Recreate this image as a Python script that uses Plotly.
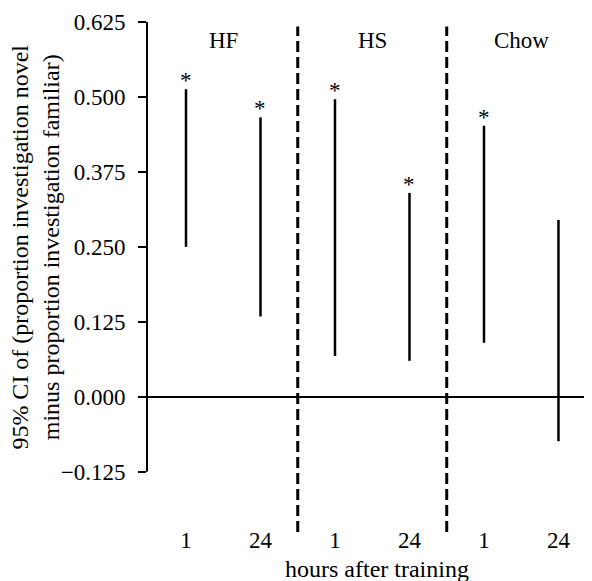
import plotly.graph_objects as go

# ---- data ----
groups = ["HF", "HS", "Chow"]
hours = ["1", "24", "1", "24", "1", "24"]
ci_lower = [0.250, 0.134, 0.068, 0.060, 0.090, -0.074]
ci_upper = [0.513, 0.466, 0.496, 0.340, 0.452, 0.295]
significant = [True, True, True, True, True, False]
y_tick_vals = [-0.125, 0.0, 0.125, 0.25, 0.375, 0.5, 0.625]
y_tick_text = ["\u22120.125", "0.000", "0.125", "0.250", "0.375", "0.500", "0.625"]

FONT = "Liberation Serif"
FS = 23
FT = 24

xs = list(range(len(hours)))

# CI bars as vertical segments
lx, ly = [], []
for i in xs:
    lx += [i, i, None]
    ly += [ci_lower[i], ci_upper[i], None]

fig = go.Figure()
fig.add_trace(go.Scatter(x=lx, y=ly, mode="lines",
                         line=dict(color="black", width=2.5),
                         hoverinfo="skip", showlegend=False))

shapes = []
# group dividers
n_per = len(hours) // len(groups)
for g in range(1, len(groups)):
    xd = g * n_per - 0.5
    shapes.append(dict(type="line", xref="x", yref="paper", x0=xd, x1=xd,
                       y0=0, y1=0.991,
                       line=dict(color="black", width=3, dash="11px,5px")))
# y axis line spanning tick range
shapes.append(dict(type="line", xref="paper", yref="y", x0=0, x1=0,
                   y0=y_tick_vals[0], y1=y_tick_vals[-1],
                   line=dict(color="black", width=2)))

annotations = []
# significance asterisks
for i in xs:
    if significant[i]:
        annotations.append(dict(x=i, y=ci_upper[i], xref="x", yref="y", text="*",
                                showarrow=False, xanchor="center", yanchor="bottom",
                                yshift=-6,
                                font=dict(family=FONT, size=FS, color="black")))
for g, name in enumerate(groups):
    annotations.append(dict(x=g * n_per + (n_per - 1) / 2, y=0.5945, xref="x", yref="y",
                            text=name, showarrow=False,
                            font=dict(family=FONT, size=FS, color="black"),
                            xanchor="center", yanchor="middle"))
annotations.append(dict(x=-0.250, y=(y_tick_vals[0] + y_tick_vals[-1]) / 2,
                        xref="paper", yref="y",
                        text="95% CI of (proportion investigation novel<br>minus proportion investigation familiar)",
                        textangle=-90, showarrow=False, borderpad=0,
                        font=dict(family=FONT, size=FT, color="black"),
                        xanchor="center", yanchor="middle"))
annotations.append(dict(x=0.517, y=-0.073, xref="paper", yref="paper",
                        text="hours after training", showarrow=False, borderpad=0,
                        font=dict(family=FONT, size=FT, color="black"),
                        xanchor="center", yanchor="middle"))

fig.update_layout(
    width=584, height=573,
    margin=dict(l=139, r=0, t=14, b=49),
    plot_bgcolor="white", paper_bgcolor="white",
    font=dict(family=FONT, size=FS, color="black"),
    shapes=shapes, annotations=annotations,
    xaxis=dict(range=[-0.5235, 5.45], tickvals=xs, ticktext=hours,
               showgrid=False, zeroline=False, showline=False, ticks="",
               ticklabelstandoff=-8,
               tickfont=dict(family=FONT, size=FS, color="black")),
    yaxis=dict(range=[-0.2255, 0.625], tickvals=y_tick_vals, ticktext=y_tick_text,
               showgrid=False, zeroline=True, zerolinecolor="black", zerolinewidth=2,
               showline=False, ticks="outside", ticklen=8, tickwidth=2, tickcolor="black",
               ticklabelstandoff=8,
               tickfont=dict(family=FONT, size=FS, color="black")),
)

fig.write_html("out.html")
